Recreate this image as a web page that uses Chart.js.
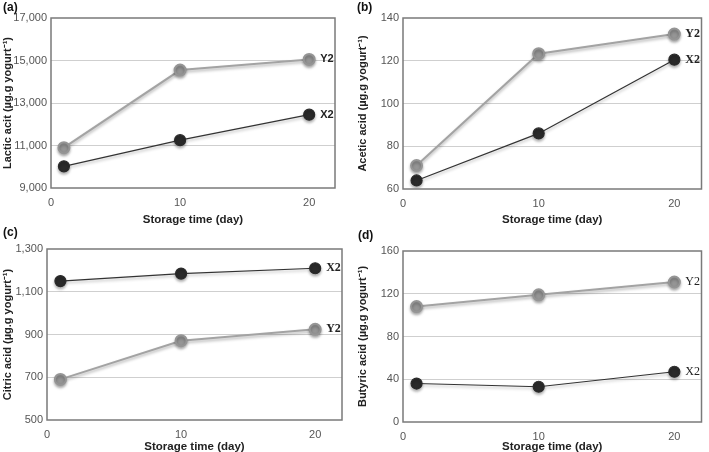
<!DOCTYPE html>
<html>
<head>
<meta charset="utf-8">
<script src="https://cdn.jsdelivr.net/npm/chart.js@4"></script>
<style>
  body { margin: 0; background: #fff; }
  #wrap { position: relative; width: 709px; height: 452px; }
  .panel { position: absolute; }
</style>
</head>
<body>
<div id="wrap">
  <div class="panel" style="left:0;top:0;width:355px;height:226px"><canvas id="ca"></canvas></div>
  <div class="panel" style="left:355px;top:0;width:354px;height:226px"><canvas id="cb"></canvas></div>
  <div class="panel" style="left:0;top:226px;width:355px;height:226px"><canvas id="cc"></canvas></div>
  <div class="panel" style="left:355px;top:226px;width:354px;height:226px"><canvas id="cd"></canvas></div>
</div>
<script>
// storage days
const days = [1, 10, 20];
const xTicks = [0, 10, 20];

// values (µg/g yogurt)
const lacticX2 = [10020, 11250, 12450];
const lacticY2 = [10900, 14550, 15050];
const aceticX2 = [64, 86, 120.5];
const aceticY2 = [71, 123.3, 132.5];
const citricX2 = [1150, 1185, 1210];
const citricY2 = [690, 871, 924];
const butyricX2 = [36, 33, 47];
const butyricY2 = [108, 119, 131];

const lacticTicks = [9000, 11000, 13000, 15000, 17000];
const aceticTicks = [60, 80, 100, 120, 140];
const citricTicks = [500, 700, 900, 1100, 1300];
const butyricTicks = [0, 40, 80, 120, 160];

const sans = "'Liberation Sans', Arial, sans-serif";
const serif = "'Liberation Serif', 'Times New Roman', serif";

// soft shadow under lines and points, like the original
const shadowPlugin = {
    id: 'shadow',
    beforeDatasetsDraw(chart) {
        const ctx = chart.ctx;
        ctx.save();
        ctx.shadowColor = 'rgba(0,0,0,0.3)';
        ctx.shadowBlur = 3;
        ctx.shadowOffsetY = 2;
    },
    afterDatasetsDraw(chart) {
        chart.ctx.restore();
    }
};

// frame round the plot area
const framePlugin = {
    id: 'frame',
    afterDraw(chart) {
        const a = chart.chartArea, ctx = chart.ctx;
        ctx.save();
        ctx.strokeStyle = '#7a7a7a';
        ctx.lineWidth = 1.5;
        ctx.strokeRect(a.left, a.top, a.right - a.left, a.bottom - a.top);
        ctx.restore();
    }
};

// panel letter and end-of-line series names
const labelPlugin = {
    id: 'labels',
    afterDraw(chart, args, opts) {
        const ctx = chart.ctx;
        ctx.save();
        ctx.fillStyle = '#111';
        ctx.font = "bold 12px " + sans;
        ctx.textBaseline = 'top';
        ctx.fillText(opts.letter, opts.lx, opts.ly);
        ctx.font = opts.endFont;
        ctx.textBaseline = 'middle';
        chart.data.datasets.forEach((ds, i) => {
            const pts = chart.getDatasetMeta(i).data;
            const p = pts[pts.length - 1];
            ctx.fillStyle = '#222';
            ctx.fillText(ds.label, p.x + 11, p.y);
        });
        ctx.restore();
    }
};

function makeChart(id, letter, title, x2, y2, yTicks, box, endFont) {
    const yMin = yTicks[0], yMax = yTicks[yTicks.length - 1];
    return new Chart(document.getElementById(id), {
        type: 'line',
        data: {
            datasets: [
                {
                    label: 'Y2',
                    data: days.map((d, i) => ({x: d, y: y2[i]})),
                    borderColor: '#a3a3a3',
                    borderWidth: 2,
                    pointBackgroundColor: '#959595',
                    pointBorderColor: '#959595',
                    pointRadius: 5.5
                },
                {
                    label: 'X2',
                    data: days.map((d, i) => ({x: d, y: x2[i]})),
                    borderColor: '#333',
                    borderWidth: 1.2,
                    pointBackgroundColor: '#2a2a2a',
                    pointBorderColor: '#2a2a2a',
                    pointRadius: 5.5
                }
            ]
        },
        options: {
            responsive: true,
            maintainAspectRatio: false,
            animation: false,
            layout: {padding: {top: box.top, right: box.right, left: 0, bottom: 0}},
            plugins: {
                legend: {display: false},
                tooltip: {enabled: false},
                labels: {letter: letter, lx: box.lx, ly: box.ly, endFont: endFont}
            },
            scales: {
                x: {
                    type: 'linear',
                    min: 0,
                    max: 22,
                    afterBuildTicks: s => { s.ticks = xTicks.map(v => ({value: v})); },
                    afterFit: s => { s.height = box.xh; },
                    grid: {display: false},
                    border: {display: false},
                    ticks: {color: '#555', font: {family: sans, size: 11}, padding: 0, maxRotation: 0},
                    title: {
                        display: true,
                        text: 'Storage time (day)',
                        color: '#222',
                        font: {family: sans, size: 11.5, weight: 'bold'},
                        padding: {top: 2, bottom: box.tb}
                    }
                },
                y: {
                    min: yMin,
                    max: yMax,
                    afterBuildTicks: s => { s.ticks = yTicks.map(v => ({value: v})); },
                    afterFit: s => { s.width = box.yw; },
                    grid: {
                        color: c => (c.tick.value === yMin || c.tick.value === yMax) ? 'rgba(0,0,0,0)' : '#cfcfcf',
                        drawTicks: false,
                        lineWidth: 1
                    },
                    border: {display: false},
                    ticks: {
                        color: '#555',
                        font: {family: sans, size: 11},
                        padding: 4,
                        callback: v => v.toLocaleString('en-US')
                    },
                    title: {
                        display: true,
                        text: title,
                        color: '#222',
                        font: {family: sans, size: 11, weight: 'bold'},
                        padding: {top: 1, bottom: 2}
                    }
                }
            }
        },
        plugins: [shadowPlugin, framePlugin, labelPlugin]
    });
}

makeChart('ca', '(a)', 'Lactic acit (µg.g yogurt⁻¹)', lacticX2, lacticY2, lacticTicks,
    {top: 18, right: 20, xh: 38, yw: 51, tb: -1, lx: 3, ly: 2}, "bold 11px " + sans);
makeChart('cb', '(b)', 'Acetic acid (µg.g yogurt⁻¹)', aceticX2, aceticY2, aceticTicks,
    {top: 18, right: 7, xh: 37, yw: 48, tb: -1, lx: 2, ly: 2}, "bold 12px " + serif);
makeChart('cc', '(c)', 'Citric acid (µg.g yogurt⁻¹)', citricX2, citricY2, citricTicks,
    {top: 23, right: 13, xh: 32, yw: 47, tb: -2, lx: 3, ly: 1}, "bold 12px " + serif);
makeChart('cd', '(d)', 'Butyric acid (µg.g yogurt⁻¹)', butyricX2, butyricY2, butyricTicks,
    {top: 25, right: 1, xh: 30, yw: 48, tb: -2, lx: 3, ly: 4}, "12px " + serif);
</script>
</body>
</html>
